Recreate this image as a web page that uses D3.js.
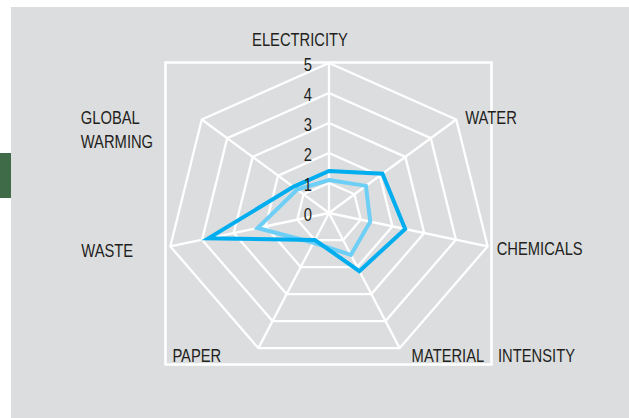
<!DOCTYPE html>
<html>
<head>
<meta charset="utf-8">
<script src="https://cdn.jsdelivr.net/npm/d3@7"></script>
<style>
  html, body { margin: 0; padding: 0; background: #ffffff; }
  svg text { font-family: "Liberation Sans", "Arial", sans-serif; fill: #231f20; }
</style>
</head>
<body>
<svg id="chart" width="629" height="418"></svg>
<script>
// Radar axes, clockwise from the top
const axes = ["ELECTRICITY", "WATER", "CHEMICALS", "MATERIAL INTENSITY", "PAPER", "WASTE", "GLOBAL WARMING"];
// Two scored profiles (0–5 scale)
const profileDark  = [1.4, 2.1, 2.4, 2.15, 1.0, 3.8, 1.4];
const profileLight = [1.1, 1.45, 1.3, 1.55, 1.1, 2.25, 1.25];
// Ring values shown along the top axis
const tickValues = [0, 1, 2, 3, 4, 5];

const svg = d3.select("#chart");
const W = 629, H = 418;
const cx = 329, cy = 213;
const R = 150;
const xStretch = 1.085;
const condense = 0.82;   // narrow lettering

// Page panel and side tab
svg.append("rect").attr("x", 11).attr("y", 7).attr("width", W - 11).attr("height", H - 7).attr("fill", "#dcdddf");
svg.append("rect").attr("x", 0).attr("y", 153).attr("width", 11).attr("height", 45).attr("fill", "#3f6b48");

const r = d3.scaleLinear().domain([0, 5]).range([0, R]);
const angle = d3.scaleLinear().domain([0, axes.length]).range([0, 2 * Math.PI]);

function pt(i, v) {
  const a = angle(i);
  return [cx + xStretch * r(v) * Math.sin(a), cy - r(v) * Math.cos(a)];
}

function placeText(sel, x, y) {
  return sel.attr("transform", `translate(${x},${y}) scale(${condense},1)`);
}

// Frame around the grid
svg.append("rect")
  .attr("x", 165.5).attr("y", 62.5).attr("width", 326).attr("height", 302)
  .attr("fill", "none").attr("stroke", "#ffffff").attr("stroke-width", 2.5);

const g = svg.append("g");

// Rings
const line = d3.line().curve(d3.curveLinearClosed);
g.selectAll("path.ring")
  .data(tickValues.filter(d => d > 0))
  .join("path")
  .attr("class", "ring")
  .attr("d", v => line(axes.map((_, i) => pt(i, v))))
  .attr("fill", "none").attr("stroke", "#ffffff").attr("stroke-width", 2.3)
  .attr("stroke-linejoin", "miter");

// Spokes
g.selectAll("line.spoke")
  .data(axes)
  .join("line")
  .attr("class", "spoke")
  .attr("x1", cx).attr("y1", cy)
  .attr("x2", (_, i) => pt(i, 5)[0]).attr("y2", (_, i) => pt(i, 5)[1])
  .attr("stroke", "#ffffff").attr("stroke-width", 2.3);

// Profiles
const profiles = [
  { values: profileLight, color: "#6dcff6" },
  { values: profileDark, color: "#00aeef" }
];
g.selectAll("path.profile")
  .data(profiles)
  .join("path")
  .attr("class", "profile")
  .attr("d", p => line(p.values.map((v, i) => pt(i, v))))
  .attr("fill", "none")
  .attr("stroke", p => p.color)
  .attr("stroke-width", 4)
  .attr("stroke-linejoin", "miter");

// Ring values along the top axis
g.selectAll("text.tick")
  .data(tickValues)
  .join("text")
  .attr("class", "tick")
  .attr("text-anchor", "end")
  .attr("font-size", 18)
  .each(function (v) { placeText(d3.select(this), cx - 17, cy - r(v) + 8); })
  .text(v => v);

// Axis labels, placed relative to the outer ring vertices
const labelPlacement = [
  { dx: -29, dy: -17, anchor: "middle" },
  { dx: 9, dy: 5, anchor: "start" },
  { dx: 9, dy: 9, anchor: "start" },
  { dx: 12, dy: 14, anchor: "start" },
  { dx: -86, dy: 14, anchor: "start" },
  { dx: -89, dy: 11, anchor: "start" },
  { dx: -121, dy: 5, anchor: "start" }
];
const labelLines = {
  "GLOBAL WARMING": ["GLOBAL", "WARMING"],
  "MATERIAL INTENSITY": ["MATERIAL", "INTENSITY"]
};

axes.forEach((name, i) => {
  const [vx, vy] = pt(i, 5);
  const p = labelPlacement[i];
  const x0 = vx + p.dx, y0 = vy + p.dy;
  const t = placeText(svg.append("text"), x0, y0)
    .attr("text-anchor", p.anchor)
    .attr("font-size", 18);
  if (name === "GLOBAL WARMING") {
    labelLines[name].forEach((w, k) => {
      t.append("tspan").attr("x", 0).attr("dy", k === 0 ? 0 : 24).text(w);
    });
  } else if (name === "MATERIAL INTENSITY") {
    t.append("tspan").attr("x", 0).text(labelLines[name][0]);
    t.append("tspan").attr("x", (498 - x0) / condense).text(labelLines[name][1]);
  } else {
    t.text(name);
  }
});
</script>
</body>
</html>
